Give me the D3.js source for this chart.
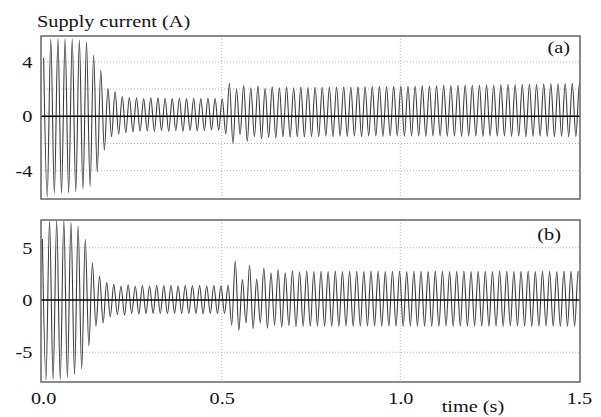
<!DOCTYPE html>
<html>
<head>
<meta charset="utf-8">
<script src="https://cdn.jsdelivr.net/npm/d3@7"></script>
<style>
  body { margin: 0; background: #fff; }
  text { font-family: "Liberation Serif", "Times New Roman", serif; fill: #111; }
</style>
</head>
<body>
<svg id="chart" width="601" height="417"></svg>
<script>
// 50 Hz supply: one positive peak and one negative trough per cycle
const period = 0.02;
const phaseA = 0.0015;   // time of the first peak, panel (a)
const phaseB = -0.002;   // time of the first peak, panel (b)

// Panel (a): peak and trough of each cycle (A)
const peaksA = [4.3, 5.68, 5.7, 5.7, 5.68, 5.6, 5.45, 4.5, 3.4, 2.05,
  1.82, 1.45, 1.38, 1.35, 1.3, 1.35, 1.35, 1.32, 1.3, 1.32,
  1.3, 1.32, 1.3, 1.32, 1.3, 1.28, 2.43, 2.0, 2.25, 2.1,
  2.22, 2.05, 2.18, 2.1, 2.15, 2.1, 2.15, 2.12, 2.15, 2.13,
  2.15, 2.15, 2.17, 2.15, 2.18, 2.17, 2.18, 2.2, 2.18, 2.2,
  2.22, 2.2, 2.22, 2.25, 2.23, 2.25, 2.27, 2.25, 2.28, 2.3,
  2.28, 2.3, 2.32, 2.3, 2.33, 2.35, 2.33, 2.35, 2.37, 2.35,
  2.38, 2.4, 2.38, 2.4, 2.42, 2.4];
const troughsA = [-5.93, -5.65, -5.65, -5.62, -5.55, -5.35, -5.15, -4.1, -2.5, -1.5,
  -1.3, -1.2, -1.15, -1.1, -1.08, -1.1, -1.05, -1.1, -1.05, -1.1,
  -1.05, -1.08, -1.05, -1.0, -1.02, -1.3, -2.0, -1.35, -1.85, -1.5,
  -1.65, -1.55, -1.6, -1.5, -1.55, -1.5, -1.52, -1.48, -1.5, -1.45,
  -1.5, -1.45, -1.48, -1.45, -1.5, -1.45, -1.45, -1.48, -1.45, -1.45,
  -1.47, -1.45, -1.45, -1.48, -1.45, -1.45, -1.47, -1.45, -1.48, -1.45,
  -1.45, -1.48, -1.45, -1.47, -1.45, -1.48, -1.45, -1.5, -1.47, -1.45,
  -1.48, -1.5, -1.47, -1.5, -1.48, -1.5];

// Panel (b): peak and trough of each cycle (A)
const peaksB = [5.85, 7.55, 7.6, 7.6, 7.45, 7.1, 5.8, 3.55, 2.3, 1.66,
  1.5, 1.34, 1.45, 1.34, 1.42, 1.36, 1.4, 1.38, 1.42, 1.36,
  1.4, 1.38, 1.4, 1.36, 1.4, 1.38, 1.4, 3.74, 1.95, 3.33,
  2.0, 3.07, 2.6, 2.9, 2.6, 2.8, 2.7, 2.78, 2.72, 2.75,
  2.72, 2.78, 2.72, 2.75, 2.75, 2.72, 2.78, 2.75, 2.72, 2.75,
  2.78, 2.72, 2.75, 2.75, 2.72, 2.78, 2.75, 2.72, 2.75, 2.78,
  2.72, 2.75, 2.75, 2.72, 2.78, 2.75, 2.72, 2.75, 2.78, 2.72,
  2.75, 2.75, 2.72, 2.78, 2.75, 2.75];
const troughsB = [-7.65, -7.6, -7.6, -7.4, -7.15, -6.6, -4.4, -2.5, -2.2, -1.6,
  -1.4, -1.45, -1.3, -1.35, -1.3, -1.28, -1.3, -1.32, -1.28, -1.3,
  -1.28, -1.3, -1.32, -1.28, -1.3, -1.3, -2.4, -2.9, -2.2, -2.73,
  -2.2, -2.7, -2.4, -2.6, -2.45, -2.55, -2.5, -2.52, -2.48, -2.5,
  -2.52, -2.5, -2.48, -2.52, -2.5, -2.5, -2.48, -2.52, -2.5, -2.5,
  -2.52, -2.48, -2.5, -2.5, -2.52, -2.5, -2.48, -2.52, -2.5, -2.5,
  -2.48, -2.52, -2.5, -2.5, -2.52, -2.48, -2.5, -2.5, -2.52, -2.5,
  -2.48, -2.5, -2.52, -2.5, -2.5, -2.5];

// Axis ticks and labels
const xTicks = [0, 0.5, 1.0, 1.5];
const xTickLabels = ["0.0", "0.5", "1.0", "1.5"];
const xGrid = [0.5, 1.0];
const yTicksA = [-4, 0, 4];
const yGridA = [-4, -2, 2, 4];
const yTicksB = [-5, 0, 5];
const yGridB = [-5, 5];

const svg = d3.select("#chart");
const FS = 17.5;
const WIDEN = 1.16;   // lettering is set slightly wide

const x = d3.scaleLinear().domain([0, 1.5]).range([43.1, 578.9]);
const boxLeft = 41, boxRight = 580;

// a widened text label anchored at (px, py)
function label(px, py, str, anchor) {
  svg.append("g").attr("transform", `translate(${px},${py}) scale(${WIDEN},1)`)
    .append("text").attr("text-anchor", anchor || "start")
    .attr("font-size", FS).text(str);
}

function samples(peaks, troughs, phase) {
  const pts = [];
  peaks.forEach((p, k) => {
    pts.push({ t: k * period + phase, v: p });
    pts.push({ t: k * period + period / 2 + phase, v: troughs[k] });
  });
  return pts;
}

function panel(cfg) {
  const y = d3.scaleLinear().domain(cfg.domain).range([cfg.bottom, cfg.top]);
  const g = svg.append("g");

  // dotted grid
  g.selectAll("line.hg").data(cfg.grid).join("line")
    .attr("x1", boxLeft).attr("x2", boxRight)
    .attr("y1", d => y(d)).attr("y2", d => y(d))
    .attr("stroke", "#b5b5b5").attr("stroke-width", 1).attr("stroke-dasharray", "1,2");
  g.selectAll("line.vg").data(xGrid).join("line")
    .attr("x1", d => x(d)).attr("x2", d => x(d))
    .attr("y1", cfg.top).attr("y2", cfg.bottom)
    .attr("stroke", "#b5b5b5").attr("stroke-width", 1).attr("stroke-dasharray", "1,2");

  // waveform
  const clipId = "clip-" + cfg.name;
  svg.append("clipPath").attr("id", clipId).append("rect")
    .attr("x", boxLeft).attr("y", cfg.top)
    .attr("width", boxRight - boxLeft).attr("height", cfg.bottom - cfg.top);
  const line = d3.line().x(d => x(d.t)).y(d => y(d.v)).curve(d3.curveMonotoneX);
  g.append("path")
    .datum(samples(cfg.peaks, cfg.troughs, cfg.phase))
    .attr("clip-path", `url(#${clipId})`)
    .attr("d", line)
    .attr("fill", "none").attr("stroke", "#3c3c3c").attr("stroke-width", 1.1)
    .attr("stroke-linejoin", "round");

  // zero line
  g.append("line")
    .attr("x1", boxLeft).attr("x2", boxRight)
    .attr("y1", y(0)).attr("y2", y(0))
    .attr("stroke", "#000").attr("stroke-width", 1.4);

  // frame
  g.append("rect")
    .attr("x", boxLeft).attr("y", cfg.top)
    .attr("width", boxRight - boxLeft).attr("height", cfg.bottom - cfg.top)
    .attr("fill", "none").attr("stroke", "#666").attr("stroke-width", 1.5);

  // y axis labels
  const pad = 8.5;
  const ax = d3.axisLeft(y).tickValues(cfg.ticks).tickSize(0).tickPadding(pad)
    .tickFormat(d => d < 0 ? "-" + Math.abs(d) : String(d));
  const axg = g.append("g").attr("transform", `translate(${boxLeft},0)`).call(ax);
  axg.select(".domain").remove();
  axg.attr("font-family", null).attr("font-size", null);
  axg.selectAll("text").attr("font-size", FS).attr("fill", "#111")
    .attr("x", -pad / WIDEN).attr("transform", `scale(${WIDEN},1)`);

  // panel tag
  label(cfg.tagX, cfg.tagY, cfg.tag, "end");
  return y;
}

panel({ name: "a", top: 36, bottom: 199, domain: [-6.08, 5.9],
  peaks: peaksA, troughs: troughsA, phase: phaseA,
  grid: yGridA, ticks: yTicksA, tag: "(a)", tagX: 570, tagY: 53 });
panel({ name: "b", top: 220, bottom: 382, domain: [-7.85, 7.66],
  peaks: peaksB, troughs: troughsB, phase: phaseB,
  grid: yGridB, ticks: yTicksB, tag: "(b)", tagX: 561, tagY: 240 });

// time axis labels
const xa = d3.axisBottom(x).tickValues(xTicks).tickSize(0).tickPadding(9.3)
  .tickFormat((d, i) => xTickLabels[i]);
const xg = svg.append("g").attr("transform", "translate(0,382)").call(xa);
xg.select(".domain").remove();
xg.attr("font-family", null).attr("font-size", null);
xg.selectAll("text").attr("font-size", FS).attr("fill", "#111")
  .attr("transform", `scale(${WIDEN},1)`);

label(37, 26.5, "Supply current (A)", "start");
label(473, 412, "time (s)", "middle");
</script>
</body>
</html>
